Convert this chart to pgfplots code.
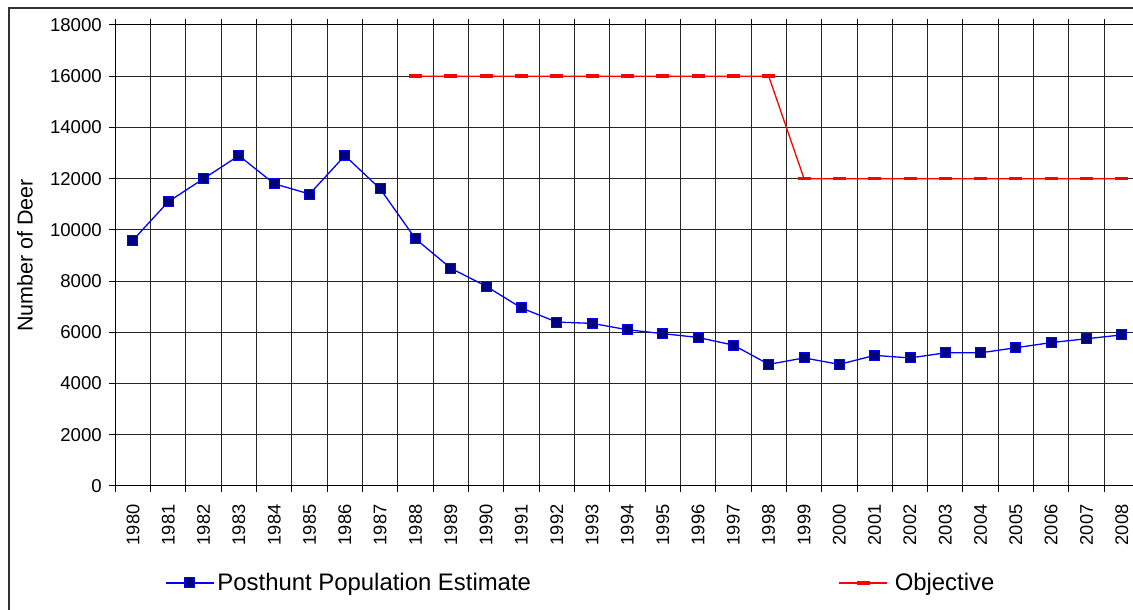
\documentclass[border=0pt]{standalone}
\usepackage{pgfplots}
\pgfplotsset{compat=1.18}
\usepackage{fontspec}
\setmainfont{Liberation Sans}
\definecolor{navyfill}{RGB}{0,0,128}
\definecolor{pureblue}{RGB}{0,0,255}
\definecolor{purered}{RGB}{255,0,0}
\begin{document}
\begin{tikzpicture}
\useasboundingbox (0pt,0pt) rectangle (1133pt,610pt);
\clip (0pt,0pt) rectangle (1133pt,610pt);
\draw[line width=1.5pt, black!80] (9pt,-20pt) -- (9pt,602pt) -- (1200pt,602pt);
\begin{axis}[
 at={(115.3pt,124pt)}, anchor=south west,
 scale only axis, width=1024.3pt, height=461pt,
 xmin=1979.5, xmax=2008.5, ymin=0, ymax=18000,
 xtick={1980,...,2008},
 minor xtick={1979.5,1980.5,...,2008.5},
 ytick={0,2000,...,18000},
 scaled ticks=false,
 tick align=outside,
 major tick length=6pt, minor tick length=6pt,
 major x tick style={draw=none},
 xminorgrids=true, ymajorgrids=true, xmajorgrids=false,
 grid style={black!85, line width=1pt},
 minor grid style={black!85, line width=1pt},
 axis line style={black, line width=1pt},
 tick style={black, line width=1pt},
 /pgf/number format/.cd, 1000 sep={}, assume math mode=true, /pgfplots/.cd,
 yticklabel style={font=\fontsize{18.6}{18}\selectfont},
 xticklabel style={rotate=90, anchor=east, font=\fontsize{18.3}{18}\selectfont},
 xticklabel shift=9pt,
 yticklabel shift=4pt,
 ylabel={Number of Deer},
 ylabel style={at={(axis description cs:-0.0882,0.5)}, anchor=center, rotate=0, font=\fontsize{21.5}{22}\selectfont},
 legend columns=2,
 legend cell align=left,
 legend style={at={(axis description cs:0.0485,-0.2104)}, anchor=west, draw=none, fill=none, inner sep=0pt,
   font=\fontsize{23.9}{26}\selectfont, nodes={inner sep=3pt}},
 legend image code/.code={\draw[mark repeat=2,mark phase=2,#1] plot coordinates {(0pt,0pt) (24pt,0pt) (48pt,0pt)};},
]
\addplot[color=pureblue, line width=1.3pt, mark=square*, mark size=5pt,
  mark options={fill=navyfill, draw=pureblue, line width=1pt, solid}] coordinates {
(1980,9600) (1981,11100) (1982,12000) (1983,12900) (1984,11800) (1985,11400)
(1986,12900) (1987,11600) (1988,9650) (1989,8500) (1990,7800) (1991,6950)
(1992,6400) (1993,6350) (1994,6100) (1995,5950) (1996,5800) (1997,5500)
(1998,4750) (1999,5000) (2000,4750) (2001,5100) (2002,5000) (2003,5200)
(2004,5200) (2005,5400) (2006,5600) (2007,5750) (2008,5900)};
\addlegendentry{\makebox[618pt][l]{Posthunt Population Estimate}}
\addplot[color=purered, line width=1.3pt, mark=-, mark size=6.5pt,
  mark options={line width=3.5pt}] coordinates {
(1988,16000) (1989,16000) (1990,16000) (1991,16000) (1992,16000) (1993,16000)
(1994,16000) (1995,16000) (1996,16000) (1997,16000) (1998,16000)
(1999,12000) (2000,12000) (2001,12000) (2002,12000) (2003,12000) (2004,12000)
(2005,12000) (2006,12000) (2007,12000) (2008,12000)};
\addlegendentry{\hspace{4pt}Objective}
\end{axis}
\end{tikzpicture}
\end{document}
